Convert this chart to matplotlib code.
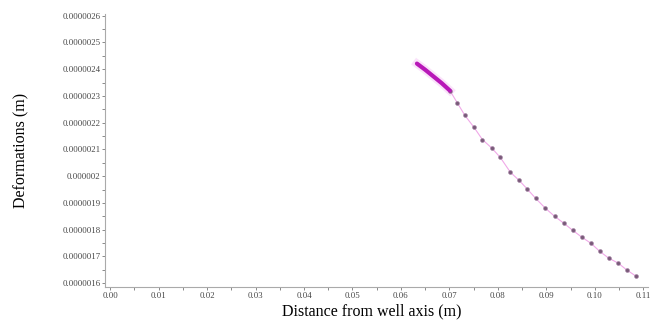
import numpy as np
import matplotlib
matplotlib.use("Agg")
import matplotlib.pyplot as plt
from matplotlib.ticker import FixedLocator, MultipleLocator

# dense part (thick magenta band)
band_x = [0.0633, 0.0650, 0.0667, 0.0684, 0.0701]
band_y = [2.421e-6, 2.398e-6, 2.373e-6, 2.348e-6, 2.320e-6]

# sampled points after the kink
dots_x = [0.0701, 0.0716, 0.0732, 0.0751, 0.0768, 0.0788, 0.0805, 0.0826, 0.0844,
          0.0861, 0.0878, 0.0898, 0.0917, 0.0936, 0.0954, 0.0973, 0.0992, 0.1010,
          0.1029, 0.1048, 0.1066, 0.1085]
dots_y = [2.320e-6, 2.275e-6, 2.227e-6, 2.182e-6, 2.137e-6, 2.104e-6, 2.070e-6,
          2.014e-6, 1.984e-6, 1.951e-6, 1.917e-6, 1.880e-6, 1.850e-6, 1.824e-6,
          1.798e-6, 1.772e-6, 1.749e-6, 1.719e-6, 1.693e-6, 1.675e-6, 1.649e-6,
          1.626e-6]

xticks = [0.00, 0.01, 0.02, 0.03, 0.04, 0.05, 0.06, 0.07, 0.08, 0.09, 0.10, 0.11]
xtick_labels = ["0.00", "0.01", "0.02", "0.03", "0.04", "0.05", "0.06", "0.07",
                "0.08", "0.09", "0.10", "0.11"]
yticks = [1.6e-6, 1.7e-6, 1.8e-6, 1.9e-6, 2.0e-6, 2.1e-6, 2.2e-6, 2.3e-6, 2.4e-6,
          2.5e-6, 2.6e-6]
ytick_labels = ["0.0000016", "0.0000017", "0.0000018", "0.0000019", "0.000002",
                "0.0000021", "0.0000022", "0.0000023", "0.0000024", "0.0000025",
                "0.0000026"]

fig = plt.figure(figsize=(6.54, 3.27), dpi=100)
ax = fig.add_axes([0.161, 0.122, 0.83, 0.834])

ax.plot(dots_x, dots_y, color="#f0a8e8", lw=0.8, zorder=2)
ax.plot(dots_x, dots_y, ls="none", marker="o", ms=2.8, color="#7a5a7a",
        mec="#a080a0", mew=0.4, zorder=3)
ax.plot(band_x, band_y, color="#b818b8", lw=3.0, solid_capstyle="round", zorder=4)
ax.plot(band_x, band_y, color="#f0a0f0", lw=6, alpha=0.3, zorder=1)

ax.set_xlim(-0.001, 0.111)
ax.set_ylim(1.585e-6, 2.605e-6)

ax.xaxis.set_major_locator(FixedLocator(xticks))
ax.set_xticklabels(xtick_labels)
ax.yaxis.set_major_locator(FixedLocator(yticks))
ax.set_yticklabels(ytick_labels)
ax.xaxis.set_minor_locator(MultipleLocator(0.005))
ax.yaxis.set_minor_locator(MultipleLocator(0.5e-7))

for s in ["top", "right"]:
    ax.spines[s].set_visible(False)
for s in ["left", "bottom"]:
    ax.spines[s].set_color("#aaaaaa")
    ax.spines[s].set_linewidth(0.8)

ax.tick_params(which="both", direction="out", length=2, width=0.6, color="#777777")
ax.tick_params(axis="both", labelsize=6.3, labelcolor="#444444", pad=1.5)
for lab in ax.get_xticklabels() + ax.get_yticklabels():
    lab.set_family("Liberation Serif")

ax.set_xlabel("Distance from well axis (m)", family="Liberation Serif", fontsize=11.5)
ax.set_ylabel("Deformations (m)", family="Liberation Serif", fontsize=11.5)
ax.xaxis.set_label_coords(0.49, -0.06)
ax.yaxis.set_label_coords(-0.14, 0.5)

fig.savefig("out.png", dpi=100)
